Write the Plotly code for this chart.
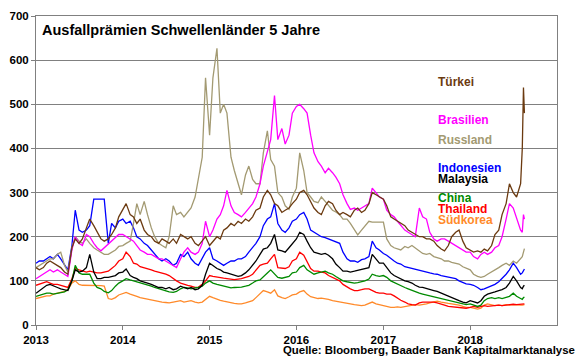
import pandas as pd
import plotly.graph_objects as go

# ---- data (semi-monthly readings, bp) ----
base_dates = list(pd.date_range("2013-01-01", "2018-08-01", freq="SMS"))
extra_dates = ["2018-08-08", "2018-08-13", "2018-08-17"]
dates = base_dates + [pd.Timestamp(d) for d in extra_dates]

year_ticks = ["2013-01-01", "2014-01-01", "2015-01-01", "2016-01-01", "2017-01-01", "2018-01-01"]
year_labels = ["2013", "2014", "2015", "2016", "2017", "2018"]

tuerkei = [
    130,125,130,140,145,140,135,130,120,115,175,195,185,195,220,240,225,210,195,190,195,205,220,245,
    260,275,250,245,230,240,215,205,200,190,185,195,190,185,195,185,205,200,195,200,185,180,190,200,
    180,190,200,195,215,220,230,225,235,230,240,235,245,260,265,290,305,295,275,270,255,260,265,275,
    285,300,305,295,280,265,255,250,270,280,275,260,250,255,250,245,260,265,255,260,275,300,295,290,
    285,270,245,240,235,230,225,215,210,205,200,200,195,195,190,180,172,168,180,200,210,215,190,175,
    170,165,168,165,172,168,180,205,215,250,275,320,300,290,320,400,538,480,
]
brasilien = [
    105,110,115,120,125,120,125,120,115,110,170,200,185,180,205,200,185,175,168,175,185,190,200,205,
    205,200,195,190,180,170,165,160,160,155,150,150,145,140,135,130,150,165,175,165,160,165,185,235,
    200,215,240,250,270,305,270,255,250,245,255,265,275,290,320,360,390,420,520,420,445,410,430,480,
    495,500,490,480,430,390,370,360,345,355,345,335,320,295,275,262,265,260,265,270,275,310,300,290,
    285,260,250,245,235,225,215,210,205,200,265,245,240,210,195,190,195,195,190,185,180,175,170,165,
    165,155,150,160,165,160,165,175,180,200,240,275,265,240,215,210,250,240,
]
russland = [
    130,135,140,145,150,150,160,165,135,120,175,200,190,185,195,185,175,170,165,160,160,165,170,178,
    180,185,190,230,275,250,280,250,220,200,185,180,175,200,270,250,255,245,255,265,290,330,380,560,
    430,560,627,480,500,480,380,350,320,295,340,360,330,320,320,390,440,375,360,300,290,270,262,290,
    310,390,350,300,290,280,277,290,280,270,260,256,250,240,240,230,215,204,215,225,235,233,233,233,
    233,195,180,175,172,170,178,175,180,175,168,162,160,162,155,152,150,145,145,142,140,138,132,128,
    125,115,110,108,110,115,120,125,130,135,140,135,145,140,150,155,165,173,
]
indonesien = [
    140,145,145,150,155,150,160,150,135,125,180,260,215,210,215,225,285,285,285,285,185,230,220,235,
    240,230,235,220,200,195,185,180,170,160,150,145,150,145,135,140,160,155,165,150,140,135,150,165,
    175,150,145,140,135,140,145,145,150,150,155,165,175,185,200,225,240,245,275,230,215,210,220,235,
    240,250,255,240,215,210,205,200,198,195,192,190,185,165,150,145,145,142,148,150,155,190,175,170,
    162,158,150,145,140,138,132,130,128,125,124,122,120,118,116,115,112,110,108,107,105,100,96,93,
    92,90,85,80,82,85,88,92,98,105,115,125,140,130,115,118,122,127,
]
malaysia = [
    72,78,85,90,92,88,85,82,80,78,100,125,120,122,130,160,120,105,105,108,108,110,112,118,
    120,127,112,108,105,100,98,95,92,88,85,85,82,85,80,82,88,85,82,85,80,82,90,115,
    140,135,128,125,120,118,115,112,110,112,118,125,135,145,160,172,175,185,205,170,168,165,175,185,
    195,210,205,190,175,165,162,160,162,158,150,138,130,122,122,120,122,124,125,128,130,160,148,140,
    140,130,118,112,108,105,100,98,95,90,86,85,82,80,78,76,72,68,64,62,58,55,52,50,
    55,52,50,55,65,70,72,75,78,80,85,95,110,100,85,82,88,90,
]
china = [
    65,68,70,72,72,70,72,74,75,80,100,135,118,115,115,115,95,85,82,76,73,78,88,95,
    100,105,102,100,98,95,92,90,88,85,82,80,78,75,74,76,82,85,84,82,84,85,88,95,
    100,95,92,90,88,85,84,85,85,86,88,90,95,100,102,110,118,125,115,108,106,108,110,118,
    120,130,135,125,120,115,118,120,122,118,115,110,105,100,98,96,95,96,98,100,104,115,112,110,
    112,108,100,96,92,88,85,82,78,75,72,70,68,66,64,62,60,58,56,55,52,50,48,46,
    48,45,42,45,55,60,62,60,62,60,62,65,72,65,60,58,62,63,
]
thailand = [
    90,92,95,98,95,92,92,90,88,85,105,128,125,122,120,122,120,118,118,120,122,128,135,145,
    150,165,155,140,138,132,130,128,125,122,120,118,115,112,105,100,95,92,90,88,85,86,92,100,
    112,110,108,108,106,105,104,103,104,105,108,110,115,125,135,138,140,150,160,130,128,128,132,145,
    150,165,158,145,128,122,122,120,118,112,108,104,100,92,86,82,78,78,80,82,82,78,74,72,
    72,70,70,66,60,56,52,48,46,45,50,52,52,52,52,50,48,45,42,41,40,40,38,38,
    40,42,40,42,44,42,43,44,45,44,45,46,47,46,47,48,48,48,
]
suedkorea = [
    60,62,64,66,66,70,72,74,76,80,95,100,92,90,90,89,90,89,89,88,60,58,62,68,
    72,74,70,68,65,62,60,58,56,55,54,52,51,50,52,54,55,52,54,55,52,50,52,58,
    65,62,58,56,54,52,50,49,48,48,50,52,55,62,70,78,75,72,80,66,62,60,64,68,
    70,75,78,70,64,62,60,61,60,58,55,54,52,51,50,48,46,45,44,45,48,52,48,46,
    45,42,40,40,41,40,42,44,45,46,45,46,48,50,52,54,52,50,49,48,47,45,42,40,
    40,38,36,38,45,48,46,44,45,44,46,45,46,45,45,45,46,46,
]

names = ["Südkorea", "Thailand", "China", "Malaysia", "Indonesien", "Russland", "Brasilien", "Türkei"]
series = [suedkorea, thailand, china, malaysia, indonesien, russland, brasilien, tuerkei]
colors = {
    "Türkei": "#6B3A10",
    "Brasilien": "#FF00FF",
    "Russland": "#A39A72",
    "Indonesien": "#0000FF",
    "Malaysia": "#000000",
    "China": "#008A00",
    "Thailand": "#FF0000",
    "Südkorea": "#FF8A2A",
}
for s in series:
    assert len(s) == len(dates), (len(s), len(dates))

fig = go.Figure()
for n, s in zip(names, series):
    fig.add_trace(go.Scatter(x=dates, y=s, mode="lines", name=n,
                             line=dict(color=colors[n], width=1.3)))

FONT = "Liberation Sans, Arial, sans-serif"
fig.update_layout(
    width=580, height=358,
    margin=dict(l=36, r=23, t=10, b=33),
    plot_bgcolor="white", paper_bgcolor="white",
    showlegend=False,
    font=dict(family=FONT, color="black"),
)
fig.update_xaxes(
    type="date", range=["2013-01-01", "2019-01-01"],
    tickvals=year_ticks, ticktext=year_labels,
    ticks="outside", ticklen=4, tickcolor="#808080",
    showline=True, linecolor="#808080", linewidth=1, mirror=True,
    showgrid=False, zeroline=False,
    tickfont=dict(family=FONT, size=11.5, weight="bold", color="black"),
)
fig.update_yaxes(
    range=[0, 700], dtick=100,
    ticks="outside", ticklen=4, tickcolor="#808080",
    showline=True, linecolor="#808080", linewidth=1, mirror=True,
    showgrid=True, gridcolor="#808080", gridwidth=1, zeroline=False,
    tickfont=dict(family=FONT, size=11.5, weight="bold", color="black"),
)

fig.add_annotation(xref="paper", yref="paper", x=0.0077, y=0.9556,
                   xanchor="left", yanchor="middle", showarrow=False,
                   text="Ausfallprämien Schwellenländer 5 Jahre",
                   font=dict(family=FONT, size=14.5, weight="bold", color="black"))

label_pos = {
    "Türkei": 0.787, "Brasilien": 0.665, "Russland": 0.598, "Indonesien": 0.5095,
    "Malaysia": 0.471, "China": 0.4095, "Thailand": 0.3746, "Südkorea": 0.3397,
}
for n, yy in label_pos.items():
    fig.add_annotation(xref="paper", yref="paper", x=0.7697, y=yy,
                       xanchor="left", yanchor="middle", showarrow=False,
                       borderpad=0,
                       text=n, font=dict(family=FONT, size=12, weight="bold", color=colors[n]))

fig.add_annotation(xref="paper", yref="paper", x=1.0384, y=-0.0794,
                   xanchor="right", yanchor="middle", showarrow=False,
                   text="Quelle: Bloomberg, Baader Bank Kapitalmarktanalyse",
                   font=dict(family=FONT, size=11.4, weight="bold", color="black"))

fig.write_html(
    "out.html",
    config={"displayModeBar": False},
    post_script="document.body.style.margin='0';document.body.style.padding='0';"
                "document.body.style.overflow='hidden';",
)
